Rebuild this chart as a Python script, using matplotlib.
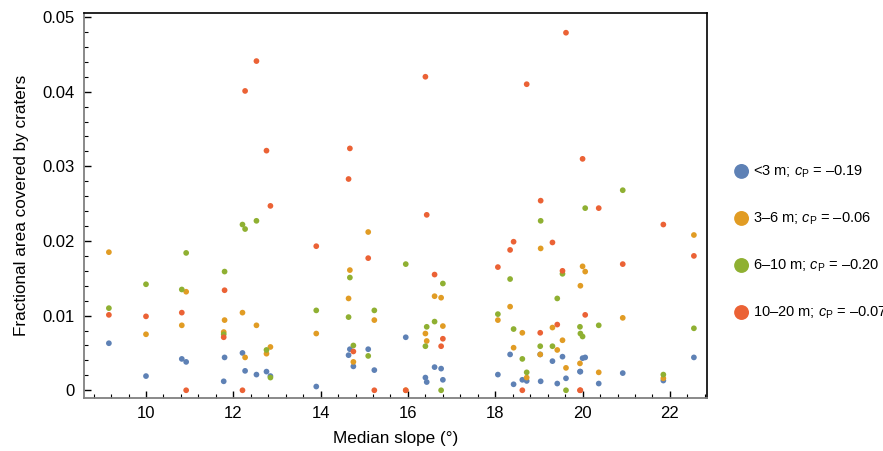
import matplotlib
matplotlib.use("Agg")
import matplotlib.pyplot as plt
from matplotlib.ticker import MultipleLocator, FixedLocator, FixedFormatter

plt.rcParams['font.family'] = ['Liberation Sans', 'DejaVu Sans']
plt.rcParams['mathtext.fontset'] = 'custom'
plt.rcParams['mathtext.rm'] = 'Liberation Sans'
plt.rcParams['mathtext.it'] = 'Liberation Sans:italic'

slopes = [9.15, 10.0, 10.82, 10.92, 11.80, 11.78, 12.21, 12.27, 12.53, 12.76, 12.85,
          13.90, 14.64, 14.67, 14.75, 15.09, 15.23, 15.95, 16.40, 16.43, 16.61, 16.76,
          16.80, 18.06, 18.34, 18.42, 18.62, 18.72, 19.04, 19.03, 19.31, 19.42, 19.54,
          19.62, 19.94, 19.95, 20.00, 20.06, 20.37, 20.92, 21.85, 22.55]

small = [0.0063, 0.0019, 0.0042, 0.0038, 0.0044, 0.0012, 0.0050, 0.0026, 0.0021, 0.0025, 0.0019,
         0.0005, 0.0047, 0.0055, 0.0032, 0.0055, 0.0027, 0.0071, 0.0017, 0.0011, 0.0031, 0.0029,
         0.0014, 0.0021, 0.0048, 0.0008, 0.0014, 0.00125, 0.0012, 0.0048, 0.0039, 0.0009, 0.0045,
         0.0016, 0.0025, 0.0025, 0.0043, 0.0044, 0.0009, 0.0023, 0.0013, 0.0044]

medium = [0.0185, 0.0075, 0.0087, 0.0132, 0.0094, 0.0078, 0.0104, 0.0044, 0.0087, 0.0049, 0.0058,
          0.0076, 0.0123, 0.0161, 0.0038, 0.0212, 0.0094, 0.0, 0.0076, 0.0066, 0.0126, 0.0124,
          0.0086, 0.0094, 0.0112, 0.0057, 0.0077, 0.0017, 0.0190, 0.0048, 0.0084, 0.0054, 0.0067,
          0.0030, 0.0036, 0.0140, 0.0166, 0.0159, 0.0024, 0.0097, 0.0016, 0.0208]

large = [0.0110, 0.0142, 0.0135, 0.0184, 0.0159, 0.0075, 0.0222, 0.0216, 0.0227, 0.0054, 0.0017,
         0.0107, 0.0098, 0.0151, 0.0060, 0.0046, 0.0107, 0.0169, 0.0059, 0.0085, 0.0092, 0.0,
         0.0143, 0.0102, 0.0149, 0.0082, 0.0042, 0.0024, 0.0227, 0.0059, 0.0059, 0.0123, 0.0156,
         0.0, 0.0085, 0.0076, 0.0072, 0.0244, 0.0087, 0.0268, 0.0021, 0.0083]

xlarge = [0.0101, 0.0099, 0.0104, 0.0, 0.0134, 0.0071, 0.0, 0.0401, 0.0441, 0.0321, 0.0247,
          0.0193, 0.0283, 0.0324, 0.0052, 0.0177, 0.0, 0.0, 0.0420, 0.0235, 0.0155, 0.0059,
          0.0069, 0.0165, 0.0188, 0.0199, 0.0, 0.0410, 0.0254, 0.0077, 0.0198, 0.0088, 0.0160,
          0.0479, 0.0, 0.0, 0.0310, 0.0101, 0.0244, 0.0169, 0.0222, 0.0180]

labels = [r'<3 m; $c_\mathrm{P}$ = –0.19',
          r'3–6 m; $c_\mathrm{P}$ = –0.06',
          r'6–10 m; $c_\mathrm{P}$ = –0.20',
          r'10–20 m; $c_\mathrm{P}$ = –0.07']
colors = ['#5E81B5', '#E19C24', '#8FB032', '#EB6235']
series = [small, medium, large, xlarge]

xticks = [10, 12, 14, 16, 18, 20, 22]
yticks = [0, 0.01, 0.02, 0.03, 0.04, 0.05]
ytick_labels = ['0', '0.01', '0.02', '0.03', '0.04', '0.05']

fig = plt.figure(figsize=(8.83, 4.51), dpi=100)
ax = fig.add_axes([84/883, 53.5/451, (707-84)/883, (397.5-13.3)/451])

for vals, c, lab in zip(series, colors, labels):
    ax.scatter(slopes, vals, s=17, color=c, edgecolors='none', label=lab, zorder=3)

ax.set_xlim(8.58, 22.85)
ax.set_ylim(-0.00097, 0.0505)
ax.xaxis.set_major_locator(FixedLocator(xticks))
ax.xaxis.set_minor_locator(MultipleLocator(0.4))
ax.yaxis.set_major_locator(FixedLocator(yticks))
ax.yaxis.set_major_formatter(FixedFormatter(ytick_labels))
ax.yaxis.set_minor_locator(MultipleLocator(0.002))

ax.tick_params(which='both', direction='in', top=False, right=False, labelsize=12, colors='black')
ax.tick_params(which='major', length=5, width=1)
ax.tick_params(axis='y', which='major', pad=7)
ax.tick_params(axis='x', which='major', pad=6)
ax.tick_params(which='minor', length=3, width=0.8)

for s in ['left', 'bottom']:
    ax.spines[s].set_color('#808080')
    ax.spines[s].set_linewidth(1.3)
for s in ['top', 'right']:
    ax.spines[s].set_color('black')
    ax.spines[s].set_linewidth(1.2)

ax.set_xlabel('Median slope (°)', fontsize=12.3, labelpad=7)
ax.set_ylabel('Fractional area covered by craters', fontsize=12.3, labelpad=9)

leg = ax.legend(loc='center left', bbox_to_anchor=(727/883, (451-242)/451),
                bbox_transform=fig.transFigure, frameon=False, fontsize=10.5,
                markerscale=2.6, handletextpad=0.15, labelspacing=2.1,
                handlelength=1.2, borderaxespad=0)

fig.savefig('out.png', dpi=100)
